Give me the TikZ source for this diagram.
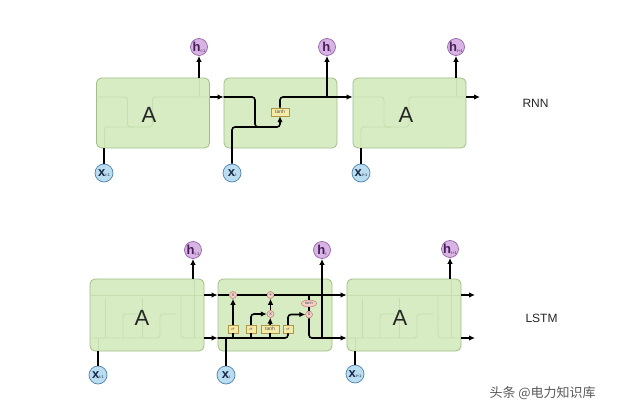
\documentclass[tikz,border=0pt]{standalone}
\usepackage{fontspec}
\setmainfont{Liberation Sans}
\newfontfamily\cjk{Noto Sans CJK SC}
\usetikzlibrary{arrows.meta,shapes.geometric}
\definecolor{boxfill}{RGB}{216,236,196}
\definecolor{boxdraw}{RGB}{160,190,135}
\definecolor{ghost}{RGB}{196,222,174}
\definecolor{hfill}{RGB}{216,180,228}
\definecolor{hdraw}{RGB}{150,100,170}
\definecolor{htext}{RGB}{70,30,90}
\definecolor{xfill}{RGB}{187,221,240}
\definecolor{xdraw}{RGB}{80,130,175}
\definecolor{xtext}{RGB}{25,40,70}
\definecolor{yfill}{RGB}{246,234,168}
\definecolor{ydraw}{RGB}{170,150,70}
\definecolor{pfill}{RGB}{244,208,200}
\definecolor{pdraw}{RGB}{190,120,105}
\definecolor{wm}{RGB}{90,90,90}
\tikzset{
  cell/.style={draw=boxdraw, fill=boxfill, rounded corners=5pt, line width=0.8pt, inner sep=0pt},
  hcirc/.style={circle, draw=hdraw, fill=hfill, line width=0.7pt, minimum size=17pt, inner sep=0pt, text=htext, font=\bfseries\fontsize{13}{13}\selectfont},
  xcirc/.style={circle, draw=xdraw, fill=xfill, line width=0.7pt, minimum size=18pt, inner sep=0pt, text=xtext, font=\bfseries\fontsize{13}{13}\selectfont},
  ybox/.style={draw=ydraw, fill=yfill, line width=0.5pt, minimum height=8pt, inner sep=0pt, font=\fontsize{5}{5}\selectfont, text=black!70},
  pcirc/.style={circle, draw=pdraw, fill=pfill, line width=0.5pt, minimum size=7pt, inner sep=0pt, font=\fontsize{5}{5}\selectfont, text=black!70},
  pell/.style={ellipse, draw=pdraw, fill=pfill, line width=0.5pt, minimum width=15pt, minimum height=7pt, inner sep=0pt, font=\fontsize{4}{4}\selectfont, text=black!70},
  wire/.style={line width=1.6pt, black},
  arr/.style={line width=1.6pt, black, -{Latex[length=6pt,width=5.5pt]}},
  faint/.style={line width=0.9pt, ghost, rounded corners=3pt},
  bigA/.style={font=\fontsize{22}{22}\selectfont, text=black!85},
  lab/.style={font=\fontsize{12}{12}\selectfont, text=black!85}
}
\newcommand{\hsub}[1]{h\raisebox{-0.1ex}{\mdseries\fontsize{4}{4}\selectfont #1}}
\newcommand{\xsub}[1]{x\raisebox{-0.1ex}{\mdseries\fontsize{4}{4}\selectfont #1}}
\newcommand{\rnnghost}{%
  \draw[faint] (224,97) -| (255,127) -| (280,108);
  \draw[faint] (232,148) |- (262,127);
  \draw[faint] (280,108) |- (337,97);
  \draw[faint] (327,97) -- (327,78);
}
\newcommand{\lstmghost}{%
  \draw[faint] (218,295) -- (332,295);
  \draw[faint] (218,338) -| (288,325);
  \draw[faint] (288,325) |- (305,314);
  \draw[faint] (233,338) -- (233,299);
  \draw[faint] (251,338) |- (266,314);
  \draw[faint] (270.5,338) -- (270.5,298);
  \draw[faint] (309,295) |- (332,338);
  \draw[faint] (322,338) -- (322,279);
  \draw[faint] (226,351) -- (226,338);
}
\begin{document}
\begin{tikzpicture}[x=1pt,y=-1pt]
\useasboundingbox[fill=white] (0,0) rectangle (640,414);

% ---------------- RNN ----------------
\node[cell, minimum width=113pt, minimum height=70pt] (r1) at (153,113) {};
\node[cell, minimum width=113pt, minimum height=70pt] (r2) at (280.5,113) {};
\node[cell, minimum width=113pt, minimum height=70pt] (r3) at (409.5,113) {};
\begin{scope}[xshift=-127.5pt]\rnnghost\end{scope}
\begin{scope}[xshift=129pt]\rnnghost\end{scope}
\node[bigA] (ra1) at (149,115) {A};
\node[bigA] (ra3) at (406,115) {A};

\node[hcirc] (rh1) at (199,47) {\hsub{t-1}};
\node[hcirc] (rh2) at (327,47) {\hsub{t}};
\node[hcirc] (rh3) at (456,47) {\hsub{t+1}};
\node[xcirc] (rx1) at (104,173) {\xsub{t-1}};
\node[xcirc] (rx2) at (232,173) {\xsub{t}};
\node[xcirc] (rx3) at (361,173) {\xsub{t+1}};

\node[ybox, minimum width=18pt] (rt) at (280,112) {tanh};
\coordinate (rb) at (327,97);
\coordinate (rout) at (480,97);

\draw[arr] (rh1 |- r1.north) -- (rh1);
\draw[arr] (rh3 |- r3.north) -- (rh3);
\draw[wire] (rx1) -- (rx1 |- r1.south);
\draw[wire] (rx3) -- (rx3 |- r3.south);
\draw[arr] ([yshift=16pt]r1.east) -- ([yshift=16pt]r2.west);
\draw[arr, rounded corners=3pt] ([yshift=16pt]r2.west) -| (255,127) -| (rt.south);
\draw[wire, rounded corners=3pt] (rx2) |- (262,127);
\draw[arr, rounded corners=3pt] (rt.north) |- ([yshift=16pt]r3.west);
\draw[arr] (rb) -- (rh2);
\draw[arr] ([yshift=16pt]r3.east) -- (rout);

\node[lab, anchor=west] (rnn) at (519,103) {RNN};

% ---------------- LSTM ----------------
\node[cell, minimum width=114pt, minimum height=72pt] (l1) at (147,315) {};
\node[cell, minimum width=114pt, minimum height=72pt] (l2) at (275,315) {};
\node[cell, minimum width=114pt, minimum height=72pt] (l3) at (404,315) {};
\begin{scope}[xshift=-128pt]\lstmghost\end{scope}
\begin{scope}[xshift=129pt]\lstmghost\end{scope}
\node[bigA] (la1) at (142,318) {A};
\node[bigA] (la3) at (400,318) {A};

\node[hcirc] (lh1) at (193,250) {\hsub{t-1}};
\node[hcirc] (lh2) at (322,250) {\hsub{t}};
\node[hcirc] (lh3) at (450,249) {\hsub{t+1}};
\node[xcirc] (lx1) at (98,375) {\xsub{t-1}};
\node[xcirc] (lx2) at (226,375) {\xsub{t}};
\node[xcirc] (lx3) at (355,374) {\xsub{t+1}};

\node[pcirc] (m1) at (233,295) {x};
\node[pcirc] (p1) at (270.5,295) {+};
\node[pcirc] (m2) at (270.5,314) {x};
\node[pell] (tc) at (309,303.5) {tanh};
\node[pcirc] (m3) at (309,314.5) {x};
\node[ybox, minimum width=10pt] (s1) at (233,329) {$\sigma$};
\node[ybox, minimum width=10pt] (s2) at (251,329) {$\sigma$};
\node[ybox, minimum width=18pt] (t1) at (270,329) {tanh};
\node[ybox, minimum width=10pt] (s4) at (288,329) {$\sigma$};
\coordinate (xb) at (226,338);
\coordinate (hb) at (322,338);
\coordinate (tj) at (309,295);
\coordinate (o1) at (475,295);
\coordinate (o2) at (475,338);

\draw[arr] (lh1 |- l1.north) -- (lh1);
\draw[arr] (lh3 |- l3.north) -- (lh3);
\draw[wire] (lx1) -- (lx1 |- l1.south);
\draw[wire] (lx3) -- (lx3 |- l3.south);
\draw[arr] ([yshift=20pt]l1.east) -- ([yshift=20pt]l2.west);
\draw[arr] ([yshift=-23pt]l1.east) -- ([yshift=-23pt]l2.west);

\draw[wire] ([yshift=20pt]l2.west) -- (m1);
\draw[wire] (m1) -- (p1);
\draw[arr] (p1) -- ([yshift=20pt]l3.west);
\draw[wire, rounded corners=3pt] ([yshift=-23pt]l2.west) -| (s4.south);
\draw[wire] (lx2) -- (xb);
\draw[wire] (s1.south) -- (s1.south |- xb);
\draw[wire] (s2.south) -- (s2.south |- xb);
\draw[wire] (t1.south) -- (t1.south |- xb);
\draw[arr] (s1.north) -- (m1);
\draw[arr, rounded corners=3pt] (s2.north) |- (m2);
\draw[arr] (t1.north) -- (m2);
\draw[arr] (m2) -- (p1);
\draw[arr, rounded corners=3pt] (s4.north) |- (m3);
\draw[wire] (tj) -- (tc);
\draw[wire] (tc) -- (m3);
\draw[arr, rounded corners=3pt] (m3.south) |- ([yshift=-23pt]l3.west);
\draw[arr] (hb) -- (lh2);
\draw[arr] ([yshift=20pt]l3.east) -- (o1);
\draw[arr] ([yshift=-23pt]l3.east) -- (o2);

\node[lab, anchor=west] (lstm) at (522,318) {LSTM};

\node[anchor=west, text=wm, font=\cjk\fontsize{13}{13}\selectfont] (wmk) at (486,393) {头条 @电力知识库};
\end{tikzpicture}
\end{document}
